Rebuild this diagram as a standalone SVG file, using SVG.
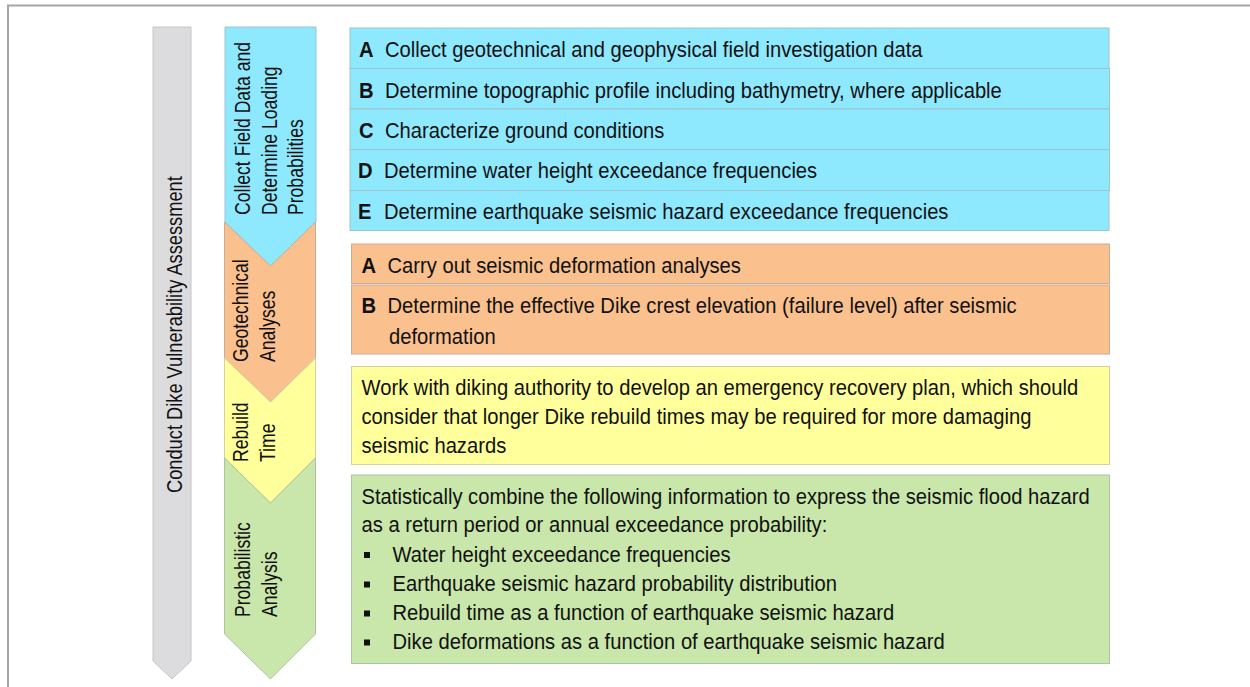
<svg xmlns="http://www.w3.org/2000/svg" width="1250" height="687" viewBox="0 0 1250 687">
<style>
  text { font-family: "Liberation Sans", Arial, sans-serif; font-size: 22px; fill: #111; }
  .b { font-weight: bold; }
  .frame { stroke: #a6a6a8; stroke-width: 2; fill: none; }
  .cy { fill: #8ee9fe; stroke: #9ec4cd; stroke-width: 1; }
  .or { fill: #fac08e; stroke: #c9ad96; stroke-width: 1; }
  .ye { fill: #ffff9b; stroke: #d2d2a0; stroke-width: 1; }
  .gr { fill: #c9e7aa; stroke: #aec3a0; stroke-width: 1; }
  .gy { fill: #dcdcde; stroke: #c6c6c8; stroke-width: 1; }
  .bul { fill: #111; }
</style>
<rect width="1250" height="687" fill="#ffffff"/>
<path class="frame" d="M8,687 V5.5 H1250"/>

<g id="assessment">
  <polygon class="gy" points="153,27 191,27 191,661 172,679 153,661"/>
  <text transform="translate(181.5,493) rotate(-90) scale(0.83,1)">Conduct Dike Vulnerability Assessment</text>
</g>

<g id="stage-collect">
  <polygon class="cy" points="225,27 316,27 316,222 270.5,266 225,222"/>
  <text transform="translate(250,215) rotate(-90) scale(0.8,1)">Collect Field Data and</text>
  <text transform="translate(276.5,215) rotate(-90) scale(0.8,1)">Determine Loading</text>
  <text transform="translate(303,215) rotate(-90) scale(0.8,1)">Probabilities</text>
</g>

<g id="stage-geotech">
  <polygon class="or" points="224.5,222 270.5,266 315.5,222 315.5,358 270.5,402 224.5,358"/>
  <text transform="translate(248,362) rotate(-90) scale(0.8,1)">Geotechnical</text>
  <text transform="translate(275,362) rotate(-90) scale(0.8,1)">Analyses</text>
</g>

<g id="stage-rebuild">
  <polygon class="ye" points="224.5,358 270.5,402 315.5,358 315.5,458 270.5,503 224.5,458"/>
  <text transform="translate(248,462) rotate(-90) scale(0.8,1)">Rebuild</text>
  <text transform="translate(275,462) rotate(-90) scale(0.8,1)">Time</text>
</g>

<g id="stage-prob">
  <polygon class="gr" points="224.5,458 270.5,503 315.5,458 315.5,634 270.5,679 224.5,634"/>
  <text transform="translate(250,617) rotate(-90) scale(0.8,1)">Probabilistic</text>
  <text transform="translate(277,617) rotate(-90) scale(0.8,1)">Analysis</text>
</g>

<g id="collect-tasks">
  <rect class="cy" x="350" y="28" width="759" height="40.5"/>
  <rect class="cy" x="350" y="68.5" width="759.5" height="40.5"/>
  <rect class="cy" x="350" y="109" width="759.5" height="40.5"/>
  <rect class="cy" x="350" y="149.5" width="759.5" height="41"/>
  <rect class="cy" x="350" y="190.5" width="759" height="40"/>
  <text class="b" transform="translate(359,57) scale(0.918,1)">A</text>
  <text transform="translate(385,57) scale(0.918,1)">Collect geotechnical and geophysical field investigation data</text>
  <text class="b" transform="translate(359,97.5) scale(0.918,1)">B</text>
  <text transform="translate(385,97.5) scale(0.918,1)">Determine topographic profile including bathymetry, where applicable</text>
  <text class="b" transform="translate(359,137.5) scale(0.918,1)">C</text>
  <text transform="translate(385,137.5) scale(0.918,1)">Characterize ground conditions</text>
  <text class="b" transform="translate(358,178) scale(0.918,1)">D</text>
  <text transform="translate(384,178) scale(0.918,1)">Determine water height exceedance frequencies</text>
  <text class="b" transform="translate(358,218.5) scale(0.918,1)">E</text>
  <text transform="translate(384,218.5) scale(0.918,1)">Determine earthquake seismic hazard exceedance frequencies</text>
</g>

<g id="geotech-tasks">
  <rect class="or" x="351.5" y="244" width="758" height="39.5"/>
  <rect class="or" x="351.5" y="285" width="758" height="69"/>
  <text class="b" transform="translate(361.5,272.5) scale(0.918,1)">A</text>
  <text transform="translate(387.5,272.5) scale(0.918,1)">Carry out seismic deformation analyses</text>
  <text class="b" transform="translate(361.5,312.5) scale(0.918,1)">B</text>
  <text transform="translate(387.5,312.5) scale(0.918,1)">Determine the effective Dike crest elevation (failure level) after seismic</text>
  <text transform="translate(389,343.5) scale(0.918,1)">deformation</text>
</g>

<g id="rebuild-task">
  <rect class="ye" x="351.5" y="366.5" width="758" height="98"/>
  <text transform="translate(361.5,395) scale(0.918,1)">Work with diking authority to develop an emergency recovery plan, which should</text>
  <text transform="translate(361.5,424) scale(0.918,1)">consider that longer Dike rebuild times may be required for more damaging</text>
  <text transform="translate(361.5,453) scale(0.918,1)">seismic hazards</text>
</g>

<g id="prob-task">
  <rect class="gr" x="351.5" y="475" width="758" height="188.5"/>
  <text transform="translate(361.5,503.5) scale(0.918,1)">Statistically combine the following information to express the seismic flood hazard</text>
  <text transform="translate(361.5,532) scale(0.918,1)">as a return period or annual exceedance probability:</text>
  <rect class="bul" x="364" y="552" width="6" height="6"/>
  <text transform="translate(392.5,561.5) scale(0.918,1)">Water height exceedance frequencies</text>
  <rect class="bul" x="364" y="581.5" width="6" height="6"/>
  <text transform="translate(392.5,591) scale(0.918,1)">Earthquake seismic hazard probability distribution</text>
  <rect class="bul" x="364" y="610.5" width="6" height="6"/>
  <text transform="translate(392.5,620) scale(0.918,1)">Rebuild time as a function of earthquake seismic hazard</text>
  <rect class="bul" x="364" y="639.5" width="6" height="6"/>
  <text transform="translate(392.5,649) scale(0.918,1)">Dike deformations as a function of earthquake seismic hazard</text>
</g>

<g id="connectors"/>
</svg>
